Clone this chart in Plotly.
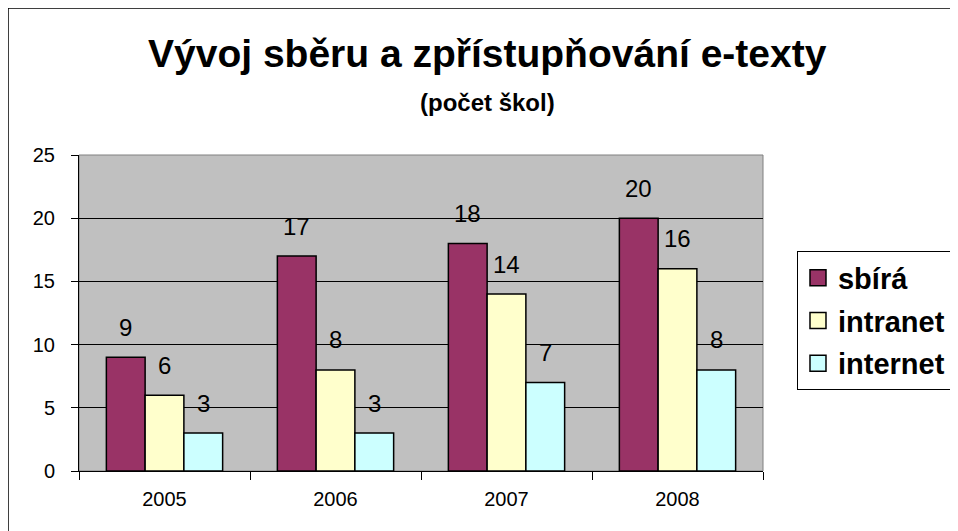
import plotly.graph_objects as go

years = ["2005", "2006", "2007", "2008"]
series_names = ["sbírá", "intranet", "internet"]
sbira = [9, 17, 18, 20]
intranet = [6, 8, 14, 16]
internet = [3, 3, 7, 8]
colors = ["#993366", "#FFFFCC", "#CCFFFF"]
y_ticks = [0, 5, 10, 15, 20, 25]

title_text = "Vývoj sběru a zpřístupňování e-texty"
subtitle_text = "(počet škol)"

FONT = "Arial, 'Liberation Sans', sans-serif"
BARGAP = 0.32

series = [sbira, intranet, internet]

fig = go.Figure()
for name, vals, col in zip(series_names, series, colors):
    fig.add_trace(go.Bar(
        x=years, y=vals, name=name, showlegend=False,
        marker=dict(color=col, line=dict(color="black", width=1.5)),
        hoverinfo="x+y+name",
    ))

# legend-only entries (larger square swatches)
for i, (name, col) in enumerate(zip(series_names, colors)):
    fig.add_trace(go.Scatter(
        x=[None], y=[None], mode="markers", name=name,
        legendgroup=f"g{i}",
        marker=dict(symbol="square", size=16, color=col,
                    line=dict(color="black", width=1.5)),
    ))

# data labels above bars
bw = (1 - BARGAP) / len(series)
annotations = []
for j, vals in enumerate(series):
    off = (j - (len(series) - 1) / 2) * bw
    for i, v in enumerate(vals):
        annotations.append(dict(
            x=i + off, y=v, xref="x", yref="y", text=str(v),
            showarrow=False, yanchor="middle", yshift=30,
            font=dict(family=FONT, size=24, color="black"),
        ))

# title
annotations.append(dict(
    x=0.5965, y=1.32, xref="paper", yref="paper", text=f"<b>{title_text}</b>",
    showarrow=False, xanchor="center", yanchor="middle",
    font=dict(family=FONT, size=39, color="black"),
))
annotations.append(dict(
    x=0.5965, y=1.165, xref="paper", yref="paper", text=f"<b>{subtitle_text}</b>",
    showarrow=False, xanchor="center", yanchor="middle",
    font=dict(family=FONT, size=24, color="black"),
))

fig.update_layout(
    width=950, height=523,
    margin=dict(l=71, r=195, t=147, b=60, autoexpand=False),
    paper_bgcolor="white", plot_bgcolor="#C0C0C0",
    barmode="group", bargap=BARGAP, bargroupgap=0,
    font=dict(family=FONT, size=20, color="black"),
    showlegend=True,
    legend=dict(
        x=1.0497, y=0.695, xanchor="left", yanchor="top",
        bordercolor="black", borderwidth=1, bgcolor="white",
        font=dict(family=FONT, size=29, color="black", weight="bold"),
        tracegroupgap=2, traceorder="grouped",
    ),
    annotations=annotations,
    shapes=[
        dict(type="rect", xref="paper", yref="paper", x0=0, x1=1, y0=0, y1=1,
             line=dict(color="#808080", width=1), layer="below"),
        dict(type="rect", xref="paper", yref="paper", x0=-0.1038, x1=1.30,
             y0=-0.21, y1=1.465, line=dict(color="black", width=1.5),
             fillcolor="rgba(0,0,0,0)"),
    ],
)
fig.update_xaxes(
    type="category", showline=True, linecolor="black", linewidth=1,
    ticks="outside", ticklen=8, tickcolor="black", tickson="boundaries",
    tickfont=dict(size=20), showgrid=False, ticklabelstandoff=10,
)
fig.update_yaxes(
    range=[0, 25], tickvals=y_ticks, showline=True, linecolor="black", linewidth=1,
    ticks="outside", ticklen=7, tickcolor="black", tickfont=dict(size=20),
    showgrid=True, gridcolor="black", gridwidth=1, zeroline=False,
    ticklabelstandoff=12,
)

fig.write_html("out.html")
